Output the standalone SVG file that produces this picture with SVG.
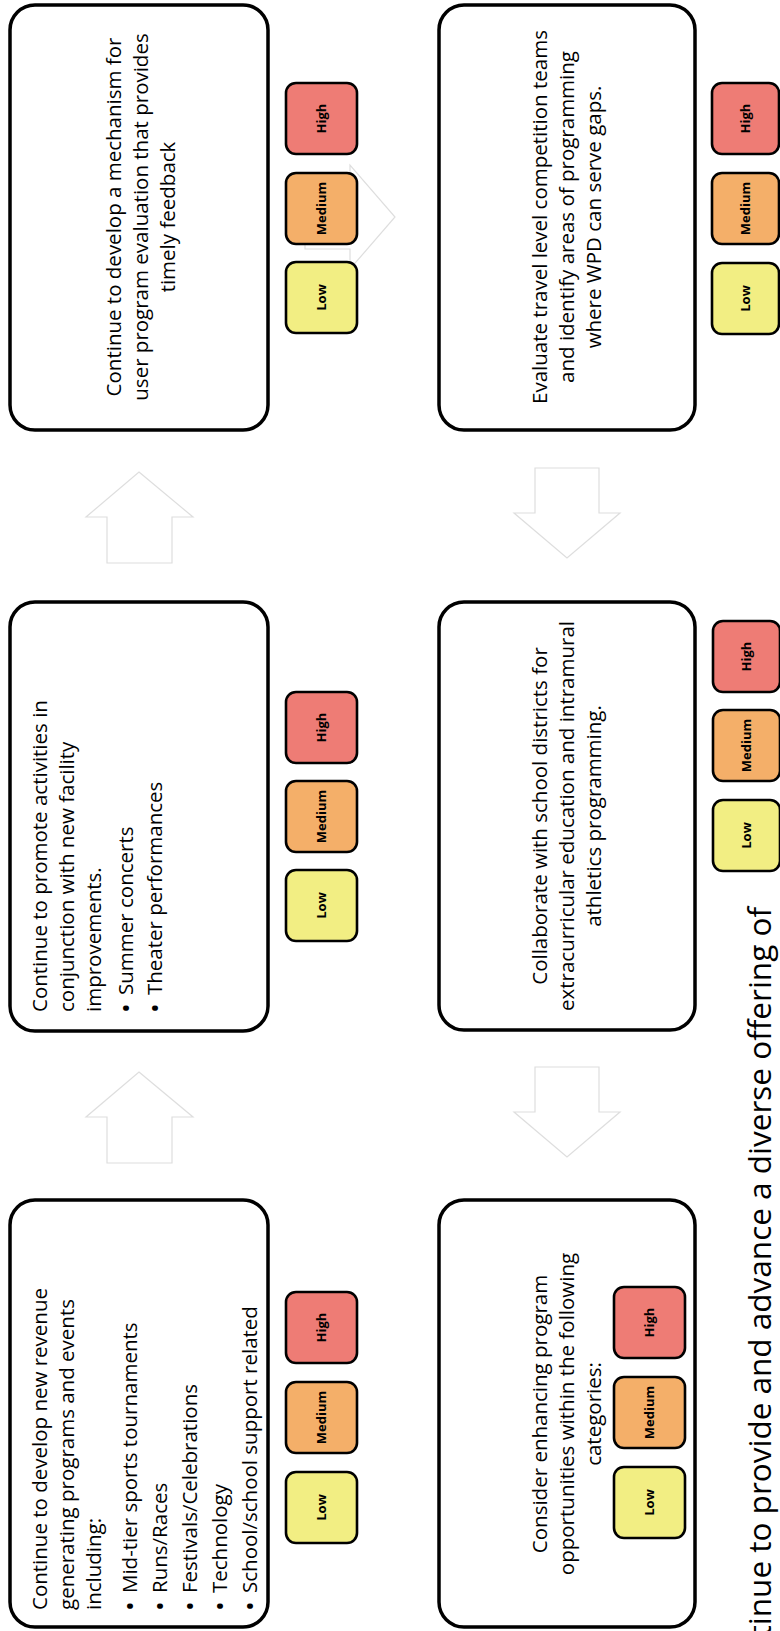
<svg xmlns="http://www.w3.org/2000/svg" width="780" height="1631" viewBox="0 0 780 1631">
<style>
.box{fill:#fff;stroke:#000;stroke-width:3.5}
.bdg{stroke:#000;stroke-width:2.6}
.low{fill:#F2EE83}
.med{fill:#F4AF69}
.high{fill:#EE7C75}
.arr{fill:#fff;stroke:#dedede;stroke-width:1.2}
text{font-family:"Open Sans","Liberation Sans",sans-serif;fill:#000}
.t{font-size:20.5px}
.bu{font-size:26px}
.c{text-anchor:middle}
.b{font-size:13px;font-weight:bold;text-anchor:middle}
.title{font-size:31.5px;text-anchor:end}
</style>
<rect width="780" height="1631" fill="#fff"/>
<g id="connectors">
<polygon class="arr" points="139,1072 193,1117 172,1117 172,1163 107,1163 107,1117 86,1117"/>
<polygon class="arr" points="139,472 193,517 172,517 172,563 107,563 107,517 86,517"/>
<polygon class="arr" points="305,185 350,185 350,165 395,217 350,269 350,249 305,249"/>
<polygon class="arr" points="535,468 599,468 599,513 620,513 567,558 514,513 535,513"/>
<polygon class="arr" points="535,1067 599,1067 599,1112 620,1112 567,1157 514,1112 535,1112"/>
</g>
<g id="node-a">
<rect class="box" x="10" y="5" width="258" height="425" rx="25"/>
<g transform="rotate(-90)">
<text class="t c" x="-217" y="121">Continue to develop a mechanism for</text>
<text class="t c" x="-217" y="148">user program evaluation that provides</text>
<text class="t c" x="-217" y="175">timely feedback</text>
</g>
<rect class="bdg high" x="286" y="83" width="71" height="71" rx="10"/>
<rect class="bdg med" x="286" y="173" width="71" height="71" rx="10"/>
<rect class="bdg low" x="286" y="262" width="71" height="71" rx="10"/>
<text class="b" transform="translate(326,118.5) rotate(-90)">High</text>
<text class="b" transform="translate(326,208.5) rotate(-90)">Medium</text>
<text class="b" transform="translate(326,297.5) rotate(-90)">Low</text>
</g>
<g id="node-b">
<rect class="box" x="10" y="602" width="258" height="429" rx="25"/>
<g transform="rotate(-90)">
<text class="t" x="-1012" y="47">Continue to promote activities in</text>
<text class="t" x="-1012" y="74">conjunction with new facility</text>
<text class="t" x="-1012" y="101">improvements.</text>
<text class="bu" x="-1013" y="135">•</text><text class="t" x="-995" y="133">Summer concerts</text>
<text class="bu" x="-1013" y="164">•</text><text class="t" x="-995" y="162">Theater performances</text>
</g>
<rect class="bdg high" x="286" y="692" width="71" height="71" rx="10"/>
<rect class="bdg med" x="286" y="781" width="71" height="71" rx="10"/>
<rect class="bdg low" x="286" y="870" width="71" height="71" rx="10"/>
<text class="b" transform="translate(326,727.5) rotate(-90)">High</text>
<text class="b" transform="translate(326,816.5) rotate(-90)">Medium</text>
<text class="b" transform="translate(326,905.5) rotate(-90)">Low</text>
</g>
<g id="node-c">
<rect class="box" x="10" y="1200" width="258" height="427" rx="25"/>
<g transform="rotate(-90)">
<text class="t" x="-1610" y="47">Continue to develop new revenue</text>
<text class="t" x="-1610" y="74">generating programs and events</text>
<text class="t" x="-1610" y="101">including:</text>
<text class="bu" x="-1611" y="139">•</text><text class="t" x="-1593" y="137">Mid-tier sports tournaments</text>
<text class="bu" x="-1611" y="169">•</text><text class="t" x="-1593" y="167">Runs/Races</text>
<text class="bu" x="-1611" y="199">•</text><text class="t" x="-1593" y="197">Festivals/Celebrations</text>
<text class="bu" x="-1611" y="229">•</text><text class="t" x="-1593" y="227">Technology</text>
<text class="bu" x="-1611" y="259">•</text><text class="t" x="-1593" y="257">School/school support related</text>
</g>
<rect class="bdg high" x="286" y="1292" width="71" height="71" rx="10"/>
<rect class="bdg med" x="286" y="1382" width="71" height="71" rx="10"/>
<rect class="bdg low" x="286" y="1472" width="71" height="71" rx="10"/>
<text class="b" transform="translate(326,1327.5) rotate(-90)">High</text>
<text class="b" transform="translate(326,1417.5) rotate(-90)">Medium</text>
<text class="b" transform="translate(326,1507.5) rotate(-90)">Low</text>
</g>
<g id="node-d">
<rect class="box" x="439" y="5" width="256" height="425" rx="25"/>
<g transform="rotate(-90)">
<text class="t c" x="-217" y="547">Evaluate travel level competition teams</text>
<text class="t c" x="-217" y="574">and identify areas of programming</text>
<text class="t c" x="-217" y="601">where WPD can serve gaps.</text>
</g>
<rect class="bdg high" x="712" y="83" width="67" height="71" rx="10"/>
<rect class="bdg med" x="712" y="173" width="67" height="71" rx="10"/>
<rect class="bdg low" x="712" y="263" width="67" height="71" rx="10"/>
<text class="b" transform="translate(750,118.5) rotate(-90)">High</text>
<text class="b" transform="translate(750,208.5) rotate(-90)">Medium</text>
<text class="b" transform="translate(750,298.5) rotate(-90)">Low</text>
</g>
<g id="node-e">
<rect class="box" x="439" y="602" width="256" height="428" rx="25"/>
<g transform="rotate(-90)">
<text class="t c" x="-816" y="547">Collaborate with school districts for</text>
<text class="t c" x="-816" y="574">extracurricular education and intramural</text>
<text class="t c" x="-816" y="601">athletics programming.</text>
</g>
<rect class="bdg high" x="713" y="621" width="67" height="71" rx="10"/>
<rect class="bdg med" x="713" y="710" width="67" height="71" rx="10"/>
<rect class="bdg low" x="713" y="800" width="67" height="71" rx="10"/>
<text class="b" transform="translate(751,656.5) rotate(-90)">High</text>
<text class="b" transform="translate(751,745.5) rotate(-90)">Medium</text>
<text class="b" transform="translate(751,835.5) rotate(-90)">Low</text>
</g>
<g id="node-f">
<rect class="box" x="439" y="1200" width="256" height="427" rx="25"/>
<g transform="rotate(-90)">
<text class="t c" x="-1414" y="547">Consider enhancing program</text>
<text class="t c" x="-1414" y="574">opportunities within the following</text>
<text class="t c" x="-1414" y="601">categories:</text>
</g>
<rect class="bdg high" x="614" y="1287" width="71" height="71" rx="10"/>
<rect class="bdg med" x="614" y="1377" width="71" height="71" rx="10"/>
<rect class="bdg low" x="614" y="1467" width="71" height="71" rx="10"/>
<text class="b" transform="translate(654,1322.5) rotate(-90)">High</text>
<text class="b" transform="translate(654,1412.5) rotate(-90)">Medium</text>
<text class="b" transform="translate(654,1502.5) rotate(-90)">Low</text>
</g>
<g id="title">
<text class="title" transform="translate(771,907) rotate(-90)">Continue to provide and advance a diverse offering of</text>
</g>
</svg>
